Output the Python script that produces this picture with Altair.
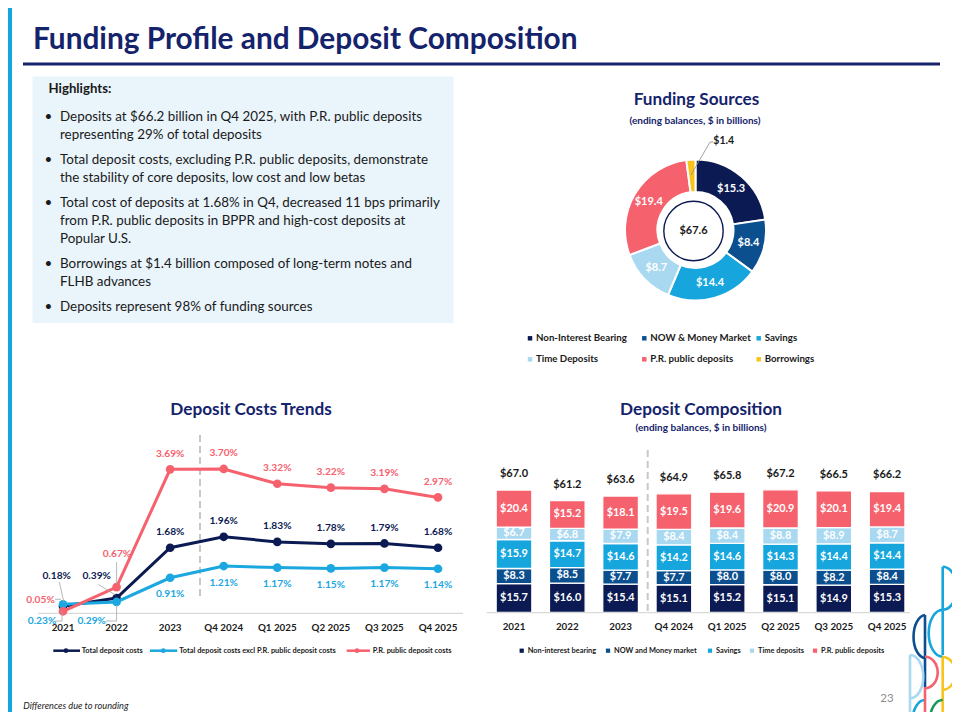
import math
import altair as alt
import pandas as pd

# ---------------- data ----------------
periods = ["2021", "2022", "2023", "Q4 2024", "Q1 2025", "Q2 2025", "Q3 2025", "Q4 2025"]

cost_series = ["Total deposit costs",
               "Total deposit costs excl P.R. public deposit costs",
               "P.R. public deposit costs"]
total_cost = [0.18, 0.39, 1.68, 1.96, 1.83, 1.78, 1.79, 1.68]
excl_cost = [0.23, 0.29, 0.91, 1.21, 1.17, 1.15, 1.17, 1.14]
pr_cost = [0.05, 0.67, 3.69, 3.70, 3.32, 3.22, 3.19, 2.97]

comp_names = ["Non-interest bearing", "NOW and Money market", "Savings",
              "Time deposits", "P.R. public deposits"]
non_int = [15.7, 16.0, 15.4, 15.1, 15.2, 15.1, 14.9, 15.3]
now_mm = [8.3, 8.5, 7.7, 7.7, 8.0, 8.0, 8.2, 8.4]
savings = [15.9, 14.7, 14.6, 14.2, 14.6, 14.3, 14.4, 14.4]
time_dep = [6.7, 6.8, 7.9, 8.4, 8.4, 8.8, 8.9, 8.7]
pr_dep = [20.4, 15.2, 18.1, 19.5, 19.6, 20.9, 20.1, 19.4]
comp_totals = [67.0, 61.2, 63.6, 64.9, 65.8, 67.2, 66.5, 66.2]

fund_names = ["Non-Interest Bearing", "NOW & Money Market", "Savings",
              "Time Deposits", "P.R. public deposits", "Borrowings"]
fund_values = [15.3, 8.4, 14.4, 8.7, 19.4, 1.4]
fund_total = 67.6

highlights = [
    ["Deposits at $66.2 billion in Q4 2025, with P.R. public deposits",
     "representing 29% of total deposits"],
    ["Total deposit costs, excluding P.R. public deposits, demonstrate",
     "the stability of core deposits, low cost and low betas"],
    ["Total cost of deposits at 1.68% in Q4, decreased 11 bps primarily",
     "from P.R. public deposits in BPPR and high-cost deposits at",
     "Popular U.S."],
    ["Borrowings at $1.4 billion composed of long-term notes and",
     "FLHB advances"],
    ["Deposits represent 98% of funding sources"],
]

# ---------------- styles ----------------
FONT = "Lato"
NAVY = "#0b1a52"
TITLE = "#14236b"
NOWC = "#0c4f8f"
SAV = "#16a6dd"
TIME = "#a9d8f1"
PINK = "#f6616e"
YEL = "#f8c41c"
GREEN = "#1a9a5a"
INK = "#1a1a1a"
comp_colors = [NAVY, NOWC, SAV, TIME, PINK]
fund_colors = [NAVY, NOWC, SAV, TIME, PINK, YEL]
line_colors = [NAVY, "#1ba7df", PINK]

OX, OY = 8, 8  # page margin offset
layers = []


def one():
    return pd.DataFrame({"t": [""]})


def txt(s, x, y, size, color=INK, weight="normal", align="left", style="normal", baseline="middle"):
    return alt.Chart(pd.DataFrame({"t": [s]})).mark_text(
        align=align, baseline=baseline, fontSize=size, font=FONT, fontWeight=weight,
        fontStyle=style, color=color
    ).encode(x=alt.value(x - OX), y=alt.value(y - OY), text="t:N")


def rect(x1, y1, x2, y2, color):
    return alt.Chart(one()).mark_rect(color=color).encode(
        x=alt.value(x1 - OX), x2=alt.value(x2 - OX), y=alt.value(y1 - OY), y2=alt.value(y2 - OY))


def rule(x1, y1, x2, y2, color, w=1.0, dash=None):
    kw = dict(color=color, strokeWidth=w)
    if dash:
        kw["strokeDash"] = dash
    return alt.Chart(one()).mark_rule(**kw).encode(
        x=alt.value(x1 - OX), x2=alt.value(x2 - OX), y=alt.value(y1 - OY), y2=alt.value(y2 - OY))


def glyph(path, x, y, color, w=2.6):
    # custom SVG path drawn at 1 unit = 1 px (size 4 -> scale sqrt(4)/2 = 1)
    return alt.Chart(one()).mark_point(shape=path, size=4, filled=False, stroke=color,
                                       strokeWidth=w, opacity=1, strokeCap="butt").encode(
        x=alt.value(x - OX), y=alt.value(y - OY))


def square(x, y, color, size=26):
    return alt.Chart(one()).mark_square(color=color, size=size, opacity=1).encode(
        x=alt.value(x - OX), y=alt.value(y - OY))


# ---------------- page frame ----------------
layers.append(rect(8, 8, 12, 720, "#12a5de"))
layers.append(txt("Funding Profile and Deposit Composition", 33, 40, 29.8, TITLE, "bold"))
layers.append(rect(23, 62.6, 940, 65.6, TITLE))

# highlights box
layers.append(rect(32.5, 76.5, 453.5, 323, "#e9f4fb"))
layers.append(txt("Highlights:", 48.5, 89, 13.2, INK, "bold"))
line_y = [[117, 134.7], [160.3, 177.7], [203.3, 221, 238.7], [264.3, 282], [307.3]]
for para, ys in zip(highlights, line_y):
    layers.append(txt("\u2022", 44.5, ys[0], 13.4, INK))
    for s, yy in zip(para, ys):
        layers.append(txt(s, 60, yy, 13.4, INK))

# ---------------- Funding Sources donut ----------------
CX, CY = 695.5, 230
layers.append(txt("Funding Sources", 696.5, 100, 17.2, TITLE, "bold", "center"))
layers.append(txt("(ending balances, $ in billions)", 695, 121, 10, TITLE, "bold", "center"))

fund_df = pd.DataFrame({
    "name": fund_names, "value": fund_values, "ord": list(range(len(fund_names))),
})
fund_df["lbl"] = ["$" + f"{v:.1f}" for v in fund_values]
theta = alt.Theta("value:Q", stack=True)
fcolor = alt.Color("name:N", scale=alt.Scale(domain=fund_names, range=fund_colors), legend=None)
layers.append(alt.Chart(fund_df).mark_arc(innerRadius=38, outerRadius=70.5, stroke="white",
                                          strokeWidth=2).encode(
    theta=theta, color=fcolor, order=alt.Order("ord:Q"),
    x=alt.value(CX - OX), y=alt.value(CY - OY)))
layers.append(alt.Chart(fund_df).transform_calculate(
    lin="datum.name == 'Borrowings' ? '' : datum.lbl").mark_text(
    radius=54.5, fontSize=11, font=FONT, fontWeight="bold", color="white").encode(
    theta=theta, order=alt.Order("ord:Q"), text="lin:N",
    x=alt.value(CX - OX), y=alt.value(CY - OY)))
layers.append(alt.Chart(fund_df).transform_calculate(
    lout="datum.name == 'Borrowings' ? datum.lbl : ''").mark_text(
    radius=89, dx=34, fontSize=10.5, font=FONT, fontWeight="bold", color=INK).encode(
    theta=theta, order=alt.Order("ord:Q"), text="lout:N",
    x=alt.value(CX - OX), y=alt.value(CY - OY)))
layers.append(rule(691, 175, 710, 142, "#8c8c8c", 0.8))
layers.append(rule(710, 142, 713, 142, "#8c8c8c", 0.8))
layers.append(alt.Chart(one()).mark_circle(size=math.pi * 33.5 ** 2, fill="white", stroke=NAVY,
                                           strokeWidth=1.4, opacity=1).encode(
    x=alt.value(CX - 2 - OX), y=alt.value(CY + 1 - OY)))
layers.append(txt("$" + f"{fund_total:.1f}", CX - 2, CY + 1, 11, INK, "bold", "center"))

leg_x = [530, 644.3, 758.7]
leg_y = [338.3, 359.3]
for i, (nm, col) in enumerate(zip(fund_names, fund_colors)):
    xx = leg_x[i % 3]
    yy = leg_y[i // 3]
    layers.append(square(xx, yy, col, 20))
    layers.append(txt(nm, xx + 6, yy, 9.7, INK, "bold"))

# ---------------- Deposit Costs Trends (lines) ----------------
layers.append(txt("Deposit Costs Trends", 251, 410, 17.2, TITLE, "bold", "center"))
lx = alt.X("period:N", scale=alt.Scale(type="point", domain=periods, range=[63 - OX, 438 - OX],
                                       padding=0), axis=None)
ly = alt.Y("v:Q", scale=alt.Scale(domain=[0, 4], range=[613.25 - OY, 457.25 - OY], nice=False,
                                  zero=True), axis=None)
layers.append(rule(38, 613.3, 463, 613.3, "#d9d9d9", 1.2))
layers.append(rule(200, 435, 200, 598, "#c8c8c8", 2, [7, 4]))

series_vals = [total_cost, excl_cost, pr_cost]
main_dy = [-15.5, 16.5, -15.5]
special = {  # (dx, dy) for the first two periods
    0: [(-6.3, -30.5), (-19.9, -22.3)],
    1: [(-21, 16.7), (-24.9, 19.1)],
    2: [(-22.5, -11.3), (0.4, -33.4)],
}
for k in range(3):
    df = pd.DataFrame({"period": periods, "v": series_vals[k], "i": list(range(len(periods)))})
    df["lbl"] = [f"{v:.2f}%" for v in series_vals[k]]
    c = line_colors[k]
    layers.append(alt.Chart(df).mark_line(color=c, strokeWidth=3).encode(x=lx, y=ly))
    layers.append(alt.Chart(df).mark_circle(color=c, size=75, opacity=1).encode(x=lx, y=ly))
    layers.append(alt.Chart(df).transform_filter("datum.i >= 2").mark_text(
        dy=main_dy[k], fontSize=10.2, font=FONT, fontWeight="bold", color=c).encode(
        x=lx, y=ly, text="lbl:N"))
    for j in range(2):
        dx, dy = special[k][j]
        layers.append(alt.Chart(df).transform_filter(f"datum.i == {j}").mark_text(
            dx=dx, dy=dy, fontSize=10.2, font=FONT, fontWeight="bold", color=c).encode(
            x=lx, y=ly, text="lbl:N"))

# leader lines for the crowded early labels
G = "#a6a6a6"
for seg in [(59.3, 582, 64, 602.5), (98.5, 584.5, 115.5, 595), (55, 599.3, 61, 599.3),
            (55.5, 621, 62, 621), (62, 621, 62, 610), (105.5, 621, 116.6, 621),
            (116.6, 621, 116.6, 605), (116.6, 562, 116.6, 584)]:
    layers.append(rule(*seg, G, 0.8))

per_df = pd.DataFrame({"period": periods})
layers.append(alt.Chart(per_df).mark_text(fontSize=9.8, font=FONT, fontWeight="bold", color=INK).encode(
    x=lx, y=alt.value(628 - OY), text="period:N"))

# line legend
leg_items = [(53.3, 80, 66, 81.7), (150, 177.3, 163.3, 179.3), (346.7, 370, 357, 372.7)]
for (a, b, d, t), nm, col in zip(leg_items, cost_series, line_colors):
    layers.append(rule(a, 650.7, b, 650.7, col, 2.5))
    layers.append(alt.Chart(one()).mark_circle(color=col, size=22, opacity=1).encode(
        x=alt.value(d - OX), y=alt.value(650.7 - OY)))
    layers.append(txt(nm, t, 651, 7.4, INK, "bold"))

# ---------------- Deposit Composition (stacked bars) ----------------
layers.append(txt("Deposit Composition", 701, 410, 17.2, TITLE, "bold", "center"))
layers.append(txt("(ending balances, $ in billions)", 701, 428, 10, TITLE, "bold", "center"))

bx = alt.X("period:N", scale=alt.Scale(type="band", domain=periods,
                                       range=[487.35 - OX, 913.75 - OX],
                                       paddingInner=0.33, paddingOuter=0.165), axis=None)
yscale = alt.Scale(domain=[0, 80], range=[612.3 - OY, 612.3 - 146 - OY], nice=False, zero=True)
comp_lists = [non_int, now_mm, savings, time_dep, pr_dep]
rows = []
for ci, (nm, vals) in enumerate(zip(comp_names, comp_lists)):
    for p, v in zip(periods, vals):
        rows.append({"period": p, "comp": nm, "ord": ci, "value": v})
bar_df = pd.DataFrame(rows)
ccolor = alt.Color("comp:N", scale=alt.Scale(domain=comp_names, range=comp_colors), legend=None)
layers.append(alt.Chart(bar_df).mark_bar(stroke="white", strokeWidth=1.3).encode(
    x=bx, y=alt.Y("value:Q", stack="zero", scale=yscale, axis=None),
    color=ccolor, order=alt.Order("ord:Q")))
layers.append(alt.Chart(bar_df).transform_stack(
    stack="value", groupby=["period"], as_=["y0", "y1"],
    sort=[alt.SortField("ord", order="ascending")]).transform_calculate(
    mid="(datum.y0 + datum.y1) / 2", lbl="'$' + format(datum.value, '.1f')").mark_text(
    fontSize=10.9, font=FONT, fontWeight="bold", color="white").encode(
    x=bx, y=alt.Y("mid:Q", scale=yscale, axis=None), text="lbl:N"))
tot_df = pd.DataFrame({"period": periods, "total": comp_totals})
tot_df["lbl"] = ["$" + f"{v:.1f}" for v in comp_totals]
layers.append(alt.Chart(tot_df).mark_text(dy=-16, fontSize=11, font=FONT, fontWeight="bold",
                                          color=INK).encode(
    x=bx, y=alt.Y("total:Q", scale=yscale, axis=None), text="lbl:N"))
layers.append(rule(486.7, 612.6, 910, 612.6, "#d9d9d9", 1.2))
layers.append(rule(647.7, 450, 647.7, 611, "#c8c8c8", 2, [7, 4]))
layers.append(alt.Chart(per_df).mark_text(fontSize=9.8, font=FONT, fontWeight="bold", color=INK).encode(
    x=bx, y=alt.value(627 - OY), text="period:N"))

bleg_sq = [521.7, 608, 710, 752, 815]
for xx, nm, col in zip(bleg_sq, comp_names, comp_colors):
    layers.append(square(xx, 650.7, col, 18))
    layers.append(txt(nm, xx + 6, 651, 7.4, INK, "bold"))

# ---------------- footer ----------------
layers.append(txt("Differences due to rounding", 23.3, 706, 9.2, INK, "normal", "left", "italic"))
layers.append(txt("23", 887, 699, 11.5, "#8c8c8c", "normal", "center"))

# decorative logo (strokes relative to an anchor at page (935, 640))
LX, LY = 935, 640
logo = [
    ("M7.7,-73.3 L7.7,15 M7.7,-73.3 A14,21.5 0 0 1 7.7,-30.3 A14,23.5 0 0 0 7.7,16.7 "
     "M-10,60 A12.3,20 0 0 0 -22.3,80", SAV),
    ("M-10,-25 L-10,47 M-10,-25 A12.3,21.7 0 0 0 -10,18.3", NOWC),
    ("M-25,15 L-25,80 M-25,15 A13.3,21.7 0 0 1 -25,58.4", TIME),
    ("M-10,16.7 A12.7,15.8 0 0 1 -10,48.3 M-10,47 L-10,80", PINK),
    ("M7.7,16.7 L7.7,80 M7.7,16.7 A14,16.7 0 0 1 7.7,50", YEL),
    ("M7.7,60 A12.7,20 0 0 0 -5,80", GREEN),
]
for p, col in logo:
    layers.append(glyph(p, LX, LY, col))

chart = alt.layer(*layers).properties(
    width=944, height=704, padding=0, autosize=alt.AutoSizeParams(type="none")
).resolve_scale(
    x="independent", y="independent", color="independent", theta="independent"
).configure_view(strokeWidth=0)

chart.save("out.html", embed_options={"renderer": "svg", "actions": False})
